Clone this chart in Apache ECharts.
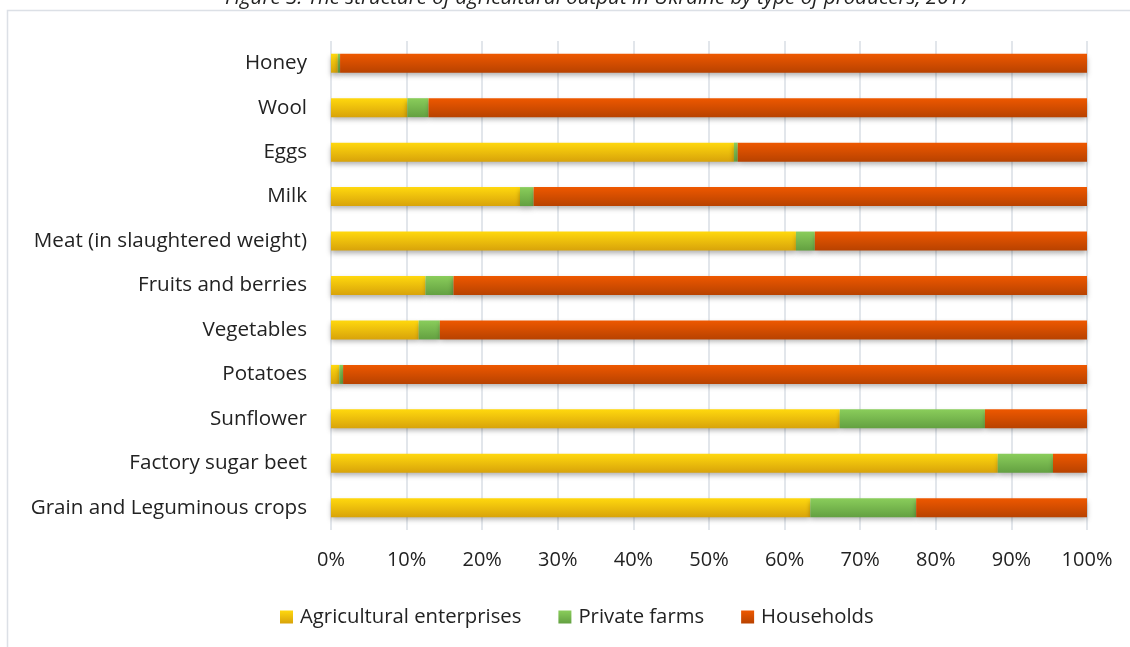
<!DOCTYPE html>
<html>
<head>
<meta charset="utf-8">
<script src="https://cdn.jsdelivr.net/npm/echarts@6/dist/echarts.min.js"></script>
<style>
  html, body { margin: 0; padding: 0; background: #ffffff; }
  #chart { width: 1130px; height: 647px; }
</style>
</head>
<body>
<div id="chart"></div>
<script>
// Product categories, listed bottom to top as they appear on the axis
const categories = [
  'Grain and Leguminous crops',
  'Factory sugar beet',
  'Sunflower',
  'Potatoes',
  'Vegetables',
  'Fruits and berries',
  'Meat (in slaughtered weight)',
  'Milk',
  'Eggs',
  'Wool',
  'Honey'
];

// Shares of output by producer type, % of total
const agriculturalEnterprises = [63.4, 88.2, 67.3, 1.1, 11.6, 12.5, 61.5, 25.0, 53.3, 10.1, 0.9];
const privateFarms            = [14.0,  7.3, 19.2, 0.5,  2.8,  3.7,  2.5,  1.8,  0.5,  2.8, 0.3];
const households              = [22.6,  4.5, 13.5, 98.4, 85.6, 83.8, 36.0, 73.2, 46.2, 87.1, 98.8];

const seriesNames = ['Agricultural enterprises', 'Private farms', 'Households'];
const xTickValues = [0, 10, 20, 30, 40, 50, 60, 70, 80, 90, 100];

const FONT = '"Open Sans", "Liberation Sans", sans-serif';

function vGrad(top, bottom) {
  return new echarts.graphic.LinearGradient(0, 0, 0, 1, [
    { offset: 0, color: top },
    { offset: 1, color: bottom }
  ]);
}

const fills = [
  vGrad('#FFD80E', '#D8A30A'),
  vGrad('#8ACD5B', '#63A041'),
  vGrad('#EE5800', '#B84200')
];
const legendColors = [
  vGrad('#FFD80E', '#D8A30A'),
  vGrad('#8ACD5B', '#63A041'),
  vGrad('#EE5800', '#B84200')
];

function makeSeries(name, data, idx) {
  return {
    name: name,
    type: 'bar',
    stack: 'total',
    data: data,
    barWidth: 19,
    color: legendColors[idx],
    itemStyle: {
      color: fills[idx],
      shadowColor: 'rgba(0,0,0,0.3)',
      shadowBlur: 5,
      shadowOffsetY: 3
    },
    emphasis: { disabled: true },
    z: 2
  };
}

const chart = echarts.init(document.getElementById('chart'), null, { renderer: 'canvas' });

chart.setOption({
  animation: false,
  backgroundColor: '#ffffff',
  graphic: [
    {
      type: 'rect',
      silent: true,
      shape: { x: 7.5, y: 10.5, width: 1140, height: 660 },
      style: { fill: 'none', stroke: '#DCE0E6', lineWidth: 1.5 },
      z: -1
    },
    {
      type: 'text',
      silent: true,
      x: 598,
      y: -2,
      style: {
        text: 'Figure 3. The structure of agricultural output in Ukraine by type of producers, 2017',
        font: 'italic 20.5px ' + FONT,
        fill: '#222222',
        align: 'center',
        verticalAlign: 'middle'
      }
    }
  ],
  grid: { left: 331, right: 43, top: 41, bottom: 117, containLabel: false },
  legend: {
    data: seriesNames,
    bottom: 15,
    left: 275,
    itemWidth: 13,
    itemHeight: 13,
    itemGap: 37,
    icon: 'rect',
    textStyle: { fontFamily: FONT, fontSize: 20.3, color: '#222222', padding: [0, 0, 0, 2] }
  },
  xAxis: {
    type: 'value',
    min: 0,
    max: 100,
    interval: 10,
    axisLine: { show: false },
    axisTick: { show: false },
    splitLine: { show: true, lineStyle: { color: '#D9DEE5', width: 1.5 } },
    axisLabel: {
      margin: 20,
      fontFamily: FONT,
      fontSize: 20,
      color: '#222222',
      formatter: function (v) { return xTickValues.indexOf(v) >= 0 ? v + '%' : ''; }
    }
  },
  yAxis: {
    type: 'category',
    data: categories,
    axisLine: { show: false },
    axisTick: { show: false },
    splitLine: { show: false },
    axisLabel: {
      margin: 24,
      fontFamily: FONT,
      fontSize: 20.6,
      color: '#222222'
    }
  },
  series: [
    makeSeries(seriesNames[0], agriculturalEnterprises, 0),
    makeSeries(seriesNames[1], privateFarms, 1),
    makeSeries(seriesNames[2], households, 2)
  ]
});
</script>
</body>
</html>
